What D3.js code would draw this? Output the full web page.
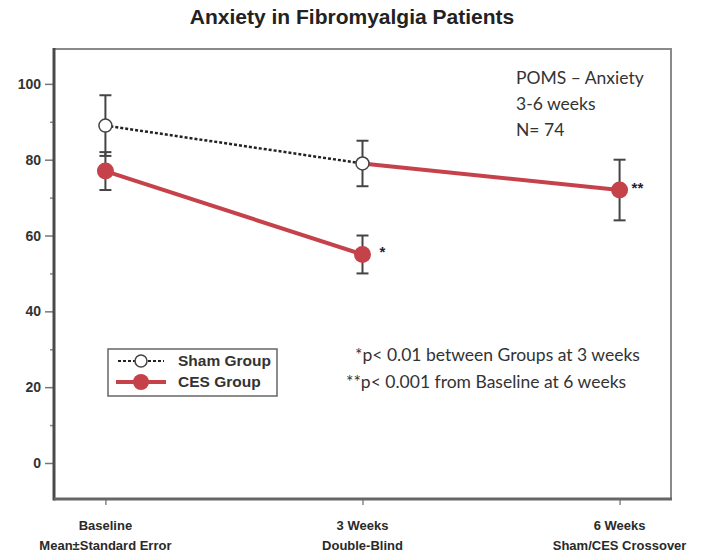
<!DOCTYPE html>
<html>
<head>
<meta charset="utf-8">
<script src="https://cdn.jsdelivr.net/npm/d3@7"></script>
<style>
  body { margin: 0; background: #fff; }
  svg { display: block; }
</style>
</head>
<body>
<div id="chart"></div>
<script>
// ─── DATA ─────────────────────────────────────────────────────────────
const categories = ["Baseline", "3 Weeks", "6 Weeks"];
const subLabels  = ["Mean±Standard Error", "Double-Blind", "Sham/CES Crossover"];

const shamCats = ["Baseline", "3 Weeks"];
const shamMean = [89, 79];
const shamErr  = [8, 6];

const cesCats = ["Baseline", "3 Weeks"];
const cesMean = [77, 55];
const cesErr  = [5, 5];

// sham group crosses over to CES after week 3
const crossCats = ["3 Weeks", "6 Weeks"];
const crossMean = [79, 72];
const crossErr  = [null, 8];

const yTicks      = [0, 20, 40, 60, 80, 100];
const yMinorTicks = [10, 30, 50, 70, 90];

const infoLines  = ["POMS – Anxiety", "3-6 weeks", "N= 74"];
const noteLines  = ["*p< 0.01 between Groups at 3 weeks", "**p< 0.001 from Baseline at 6 weeks"];
const legendKeys = ["Sham Group", "CES Group"];

// ─── SETUP ────────────────────────────────────────────────────────────
const W = 719, H = 560;
const plot = { left: 54, right: 671, top: 49, bottom: 499 };
const RED = "#c5424a";
const AXIS = "#4a4a4a";
const SANS = "'Liberation Sans', Arial, sans-serif";
const BODY = "Lato, 'Open Sans', sans-serif";

const svg = d3.select("#chart").append("svg")
    .attr("width", W).attr("height", H);

const x = d3.scalePoint()
    .domain(categories)
    .range([plot.left, plot.right])
    .padding(0.2);

const y = d3.scaleLinear()
    .domain([-9.5, 109.2])
    .range([plot.bottom, plot.top]);

// title
svg.append("text")
    .attr("x", 352).attr("y", 24)
    .attr("text-anchor", "middle")
    .style("font-family", SANS).style("font-weight", "bold")
    .style("font-size", "21px").style("fill", "#222")
    .text("Anxiety in Fibromyalgia Patients");

// frame (top/right lighter)
svg.append("rect")
    .attr("x", plot.left).attr("y", plot.top)
    .attr("width", plot.right - plot.left)
    .attr("height", plot.bottom - plot.top)
    .attr("fill", "none").attr("stroke", "#8a8a8a").attr("stroke-width", 2);

// y axis
svg.append("g")
    .attr("transform", `translate(${plot.left},0)`)
    .call(d3.axisLeft(y).tickValues(yTicks).tickSize(9).tickPadding(4))
    .call(g => g.select(".domain").remove())
    .call(g => g.selectAll(".tick line").attr("stroke", "#777").attr("stroke-width", 1.5))
    .call(g => g.selectAll("text")
        .style("font-family", SANS).style("font-weight", "bold")
        .style("font-size", "14px").style("fill", "#333"));

svg.append("g")
    .attr("transform", `translate(${plot.left},0)`)
    .call(d3.axisLeft(y).tickValues(yMinorTicks).tickSize(4).tickFormat(""))
    .call(g => g.select(".domain").remove())
    .call(g => g.selectAll(".tick line").attr("stroke", "#888").attr("stroke-width", 1.5));

// x axis
svg.append("g")
    .attr("transform", `translate(0,${plot.bottom})`)
    .call(d3.axisBottom(x).tickSize(6).tickFormat(""))
    .call(g => g.select(".domain").remove())
    .call(g => g.selectAll(".tick line").attr("stroke", "#888").attr("stroke-width", 1.5));

categories.forEach((c, i) => {
    const t = svg.append("text")
        .attr("x", x(c)).attr("y", 530)
        .attr("text-anchor", "middle")
        .style("font-family", SANS).style("font-weight", "bold")
        .style("font-size", "13px").style("fill", "#2a2a2a");
    t.append("tspan").attr("x", x(c)).attr("dy", 0).text(c);
    t.append("tspan").attr("x", x(c)).attr("dy", 20).text(subLabels[i]);
});

// darker left and bottom axis lines
svg.append("line")
    .attr("x1", plot.left).attr("x2", plot.left)
    .attr("y1", plot.top - 1).attr("y2", plot.bottom + 1.5)
    .attr("stroke", AXIS).attr("stroke-width", 3);
svg.append("line")
    .attr("x1", plot.left).attr("x2", plot.right + 1)
    .attr("y1", plot.bottom).attr("y2", plot.bottom)
    .attr("stroke", "#666").attr("stroke-width", 3);

// ─── ERROR BARS ───────────────────────────────────────────────────────
function errorBar(cat, mean, err) {
    if (err == null) return;
    const cx = x(cat), cap = 6;
    const g = svg.append("g").attr("stroke", "#444").attr("stroke-width", 2);
    g.append("line").attr("x1", cx).attr("x2", cx)
        .attr("y1", y(mean + err)).attr("y2", y(mean - err));
    [mean + err, mean - err].forEach(v => {
        g.append("line").attr("x1", cx - cap).attr("x2", cx + cap)
            .attr("y1", y(v)).attr("y2", y(v));
    });
}
shamCats.forEach((c, i) => errorBar(c, shamMean[i], shamErr[i]));
cesCats.forEach((c, i) => errorBar(c, cesMean[i], cesErr[i]));
crossCats.forEach((c, i) => errorBar(c, crossMean[i], crossErr[i]));

// ─── LINES ────────────────────────────────────────────────────────────
const line = d3.line().x(d => x(d[0])).y(d => y(d[1]));

svg.append("path")
    .datum(shamCats.map((c, i) => [c, shamMean[i]]))
    .attr("d", line).attr("fill", "none")
    .attr("stroke", "#222").attr("stroke-width", 2.5)
    .attr("stroke-dasharray", "3,2");

svg.append("path")
    .datum(cesCats.map((c, i) => [c, cesMean[i]]))
    .attr("d", line).attr("fill", "none")
    .attr("stroke", RED).attr("stroke-width", 4);

svg.append("path")
    .datum(crossCats.map((c, i) => [c, crossMean[i]]))
    .attr("d", line).attr("fill", "none")
    .attr("stroke", RED).attr("stroke-width", 4);

// ─── MARKERS ──────────────────────────────────────────────────────────
cesCats.forEach((c, i) => {
    svg.append("circle").attr("cx", x(c)).attr("cy", y(cesMean[i]))
        .attr("r", 8.5).attr("fill", RED);
});
svg.append("circle").attr("cx", x(crossCats[1])).attr("cy", y(crossMean[1]))
    .attr("r", 8.5).attr("fill", RED);
shamCats.forEach((c, i) => {
    svg.append("circle").attr("cx", x(c)).attr("cy", y(shamMean[i]))
        .attr("r", 6.5).attr("fill", "#fff")
        .attr("stroke", "#444").attr("stroke-width", 1.5);
});

// significance stars
svg.append("text")
    .attr("x", x(cesCats[1]) + 17).attr("y", y(cesMean[1]) + 3)
    .style("font-family", SANS).style("font-weight", "bold")
    .style("font-size", "15px").style("fill", "#1c2433")
    .text("*");
svg.append("text")
    .attr("x", x(crossCats[1]) + 12).attr("y", y(crossMean[1]) + 3)
    .style("font-family", SANS).style("font-weight", "bold")
    .style("font-size", "15px").style("fill", "#1c2433")
    .text("**");

// ─── TEXT BLOCKS ──────────────────────────────────────────────────────
infoLines.forEach((s, i) => {
    svg.append("text")
        .attr("x", 516).attr("y", 84 + i * 26)
        .style("font-family", BODY).style("font-size", "17.5px")
        .style("fill", "#333")
        .text(s);
});

noteLines.forEach((s, i) => {
    svg.append("text")
        .attr("x", i === 0 ? 355 : 346).attr("y", 361 + i * 27)
        .style("font-family", BODY).style("font-size", "17.5px")
        .style("fill", "#333")
        .text(s);
});

// ─── LEGEND ───────────────────────────────────────────────────────────
const lg = svg.append("g").attr("transform", "translate(108,349)");
lg.append("rect")
    .attr("width", 169).attr("height", 47)
    .attr("fill", "#fff").attr("stroke", "#666").attr("stroke-width", 1.5);

// sham key
lg.append("line").attr("x1", 10).attr("x2", 56).attr("y1", 12).attr("y2", 12)
    .attr("stroke", "#222").attr("stroke-width", 2).attr("stroke-dasharray", "3,2");
lg.append("circle").attr("cx", 33).attr("cy", 12).attr("r", 6)
    .attr("fill", "#fff").attr("stroke", "#444").attr("stroke-width", 1.5);
// CES key
lg.append("line").attr("x1", 8).attr("x2", 58).attr("y1", 33).attr("y2", 33)
    .attr("stroke", RED).attr("stroke-width", 4);
lg.append("circle").attr("cx", 33).attr("cy", 33).attr("r", 8).attr("fill", RED);

legendKeys.forEach((s, i) => {
    lg.append("text")
        .attr("x", 70).attr("y", 17 + i * 21)
        .style("font-family", SANS).style("font-weight", "bold")
        .style("font-size", "15.5px").style("fill", "#333")
        .text(s);
});
</script>
</body>
</html>
